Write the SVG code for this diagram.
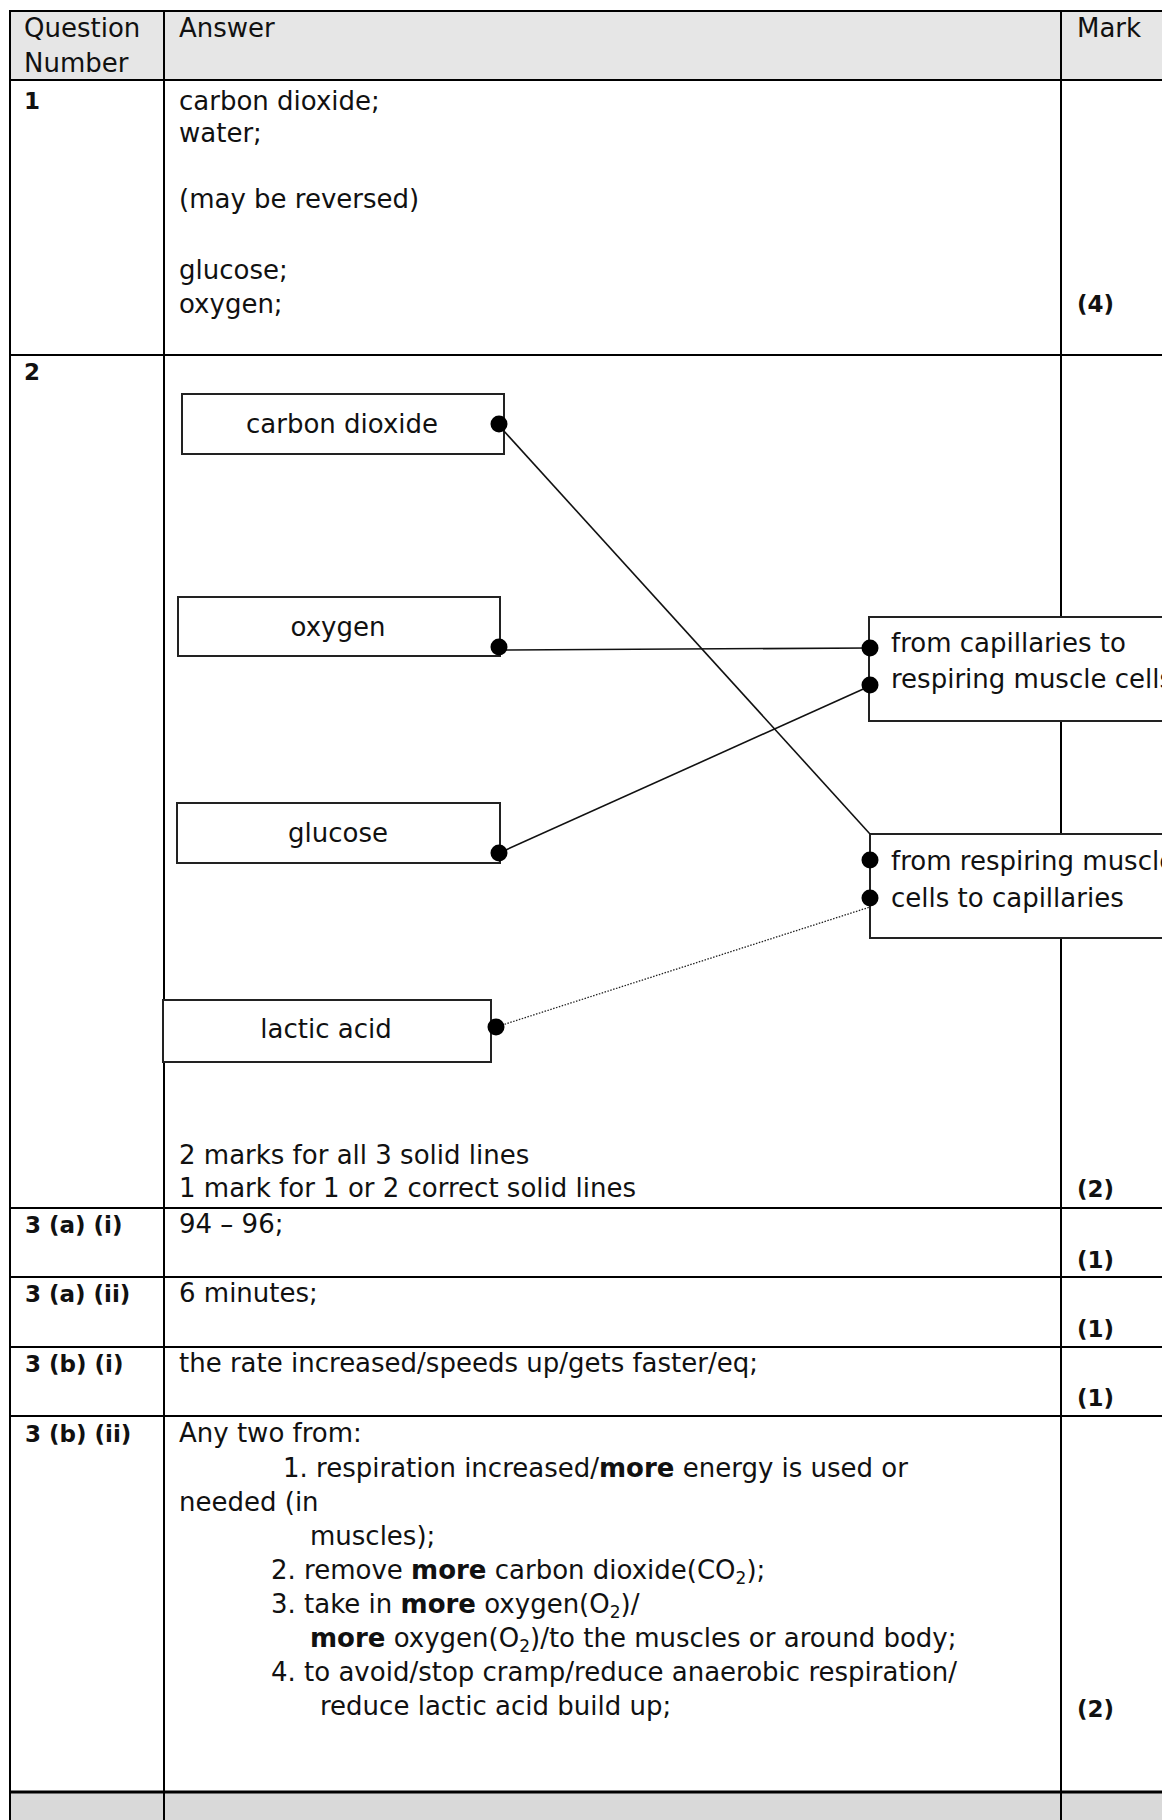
<svg xmlns="http://www.w3.org/2000/svg" width="1162" height="1820" viewBox="0 0 1162 1820">
<style>
  text { font-family: "DejaVu Sans", "Liberation Sans", sans-serif; font-size: 26px; fill: #111; }
  .b { font-weight: bold; font-size: 23px; }
  .bm { font-weight: bold; }
  .sub { font-size: 17px; }
  .grid { stroke: #000; stroke-width: 2; fill: none; }
  .box rect { fill: #fff; stroke: #222; stroke-width: 2; }
  .dot { fill: #000; }
  .conn { stroke: #111; stroke-width: 1.6; fill: none; }
  .dotted { stroke: #222; stroke-width: 1.3; stroke-dasharray: 1.5 1.5; fill: none; }
  .mid { text-anchor: middle; }
</style>
<rect x="0" y="0" width="1162" height="1820" fill="#fff"/>
<!-- backgrounds -->
<rect x="10" y="11" width="1152" height="69" fill="#e6e6e6"/>
<rect x="10" y="1792" width="1152" height="28" fill="#d9d9d9"/>
<!-- table grid -->
<g id="table" class="grid">
  <line x1="9" y1="11" x2="1162" y2="11"/>
  <line x1="10" y1="10" x2="10" y2="1820"/>
  <line x1="164" y1="10" x2="164" y2="1820"/>
  <line x1="1061" y1="10" x2="1061" y2="1820"/>
  <line x1="9" y1="80" x2="1162" y2="80"/>
  <line x1="9" y1="355" x2="1162" y2="355"/>
  <line x1="9" y1="1208" x2="1162" y2="1208"/>
  <line x1="9" y1="1277" x2="1162" y2="1277"/>
  <line x1="9" y1="1347" x2="1162" y2="1347"/>
  <line x1="9" y1="1416" x2="1162" y2="1416"/>
  <line x1="9" y1="1792" x2="1162" y2="1792" stroke-width="3"/>
</g>
<!-- header -->
<g id="header">
  <text x="24" y="37">Question</text>
  <text x="24" y="72">Number</text>
  <text x="179" y="37">Answer</text>
  <text x="1077" y="37">Mark</text>
</g>
<!-- row 1 -->
<g id="row1">
  <text class="b" x="24" y="109">1</text>
  <text x="179" y="110">carbon dioxide;</text>
  <text x="179" y="142">water;</text>
  <text x="179" y="208">(may be reversed)</text>
  <text x="179" y="279">glucose;</text>
  <text x="179" y="313">oxygen;</text>
  <text class="b" x="1077" y="312">(4)</text>
</g>
<!-- row 2 -->
<g id="row2">
  <text class="b" x="24" y="380">2</text>
  <text x="179" y="1164">2 marks for all 3 solid lines</text>
  <text x="179" y="1197">1 mark for 1 or 2 correct solid lines</text>
  <text class="b" x="1077" y="1197">(2)</text>
</g>
<!-- nodes -->
<g id="node-carbon-dioxide" class="box">
  <rect x="182" y="394" width="322" height="60"/>
  <text class="mid" x="342" y="433">carbon dioxide</text>
</g>
<g id="node-oxygen" class="box">
  <rect x="178" y="597" width="322" height="59"/>
  <text class="mid" x="338" y="636">oxygen</text>
</g>
<g id="node-glucose" class="box">
  <rect x="177" y="803" width="323" height="60"/>
  <text class="mid" x="338" y="842">glucose</text>
</g>
<g id="node-lactic-acid" class="box">
  <rect x="163" y="1000" width="328" height="62"/>
  <text class="mid" x="326" y="1038">lactic acid</text>
</g>
<g id="node-to-muscle" class="box">
  <rect x="869" y="617" width="320" height="104"/>
  <text x="891" y="652">from capillaries to</text>
  <text x="891" y="688">respiring muscle cells</text>
</g>
<g id="node-to-capillaries" class="box">
  <rect x="870" y="834" width="320" height="104"/>
  <text x="891" y="870">from respiring muscle</text>
  <text x="891" y="907">cells to capillaries</text>
</g>
<!-- connectors -->
<g id="connectors">
  <line class="conn" x1="503" y1="430" x2="870" y2="834"/>
  <line class="conn" x1="499" y1="650" x2="870" y2="648"/>
  <line class="conn" x1="499" y1="853" x2="870" y2="686"/>
  <line class="dotted" x1="496" y1="1027" x2="870" y2="907"/>
  <circle class="dot" cx="499" cy="424" r="8.5"/>
  <circle class="dot" cx="499" cy="647" r="8.5"/>
  <circle class="dot" cx="499" cy="853" r="8.5"/>
  <circle class="dot" cx="496" cy="1027" r="8.5"/>
  <circle class="dot" cx="870" cy="648" r="8.5"/>
  <circle class="dot" cx="870" cy="685" r="8.5"/>
  <circle class="dot" cx="870" cy="860" r="8.5"/>
  <circle class="dot" cx="870" cy="898" r="8.5"/>
</g>
<!-- row 3 -->
<g id="row3">
  <text class="b" x="25" y="1233">3 (a) (i)</text>
  <text x="179" y="1233">94 – 96;</text>
  <text class="b" x="1077" y="1268">(1)</text>
  <text class="b" x="25" y="1302">3 (a) (ii)</text>
  <text x="179" y="1302">6 minutes;</text>
  <text class="b" x="1077" y="1337">(1)</text>
  <text class="b" x="25" y="1372">3 (b) (i)</text>
  <text x="179" y="1372">the rate increased/speeds up/gets faster/eq;</text>
  <text class="b" x="1077" y="1406">(1)</text>
  <text class="b" x="25" y="1442">3 (b) (ii)</text>
  <text x="179" y="1442">Any two from:</text>
  <text x="283" y="1477">1. respiration increased/<tspan class="bm">more</tspan> energy is used or</text>
  <text x="179" y="1511">needed (in</text>
  <text x="310" y="1545">muscles);</text>
  <text x="271" y="1579">2. remove <tspan class="bm">more</tspan> carbon dioxide(CO<tspan class="sub" dy="5">2</tspan><tspan dy="-5">);</tspan></text>
  <text x="271" y="1613">3. take in <tspan class="bm">more</tspan> oxygen(O<tspan class="sub" dy="5">2</tspan><tspan dy="-5">)/</tspan></text>
  <text x="310" y="1647"><tspan class="bm">more</tspan> oxygen(O<tspan class="sub" dy="5">2</tspan><tspan dy="-5">)/to the muscles or around body;</tspan></text>
  <text x="271" y="1681">4. to avoid/stop cramp/reduce anaerobic respiration/</text>
  <text x="320" y="1715">reduce lactic acid build up;</text>
  <text class="b" x="1077" y="1717">(2)</text>
</g>
</svg>
